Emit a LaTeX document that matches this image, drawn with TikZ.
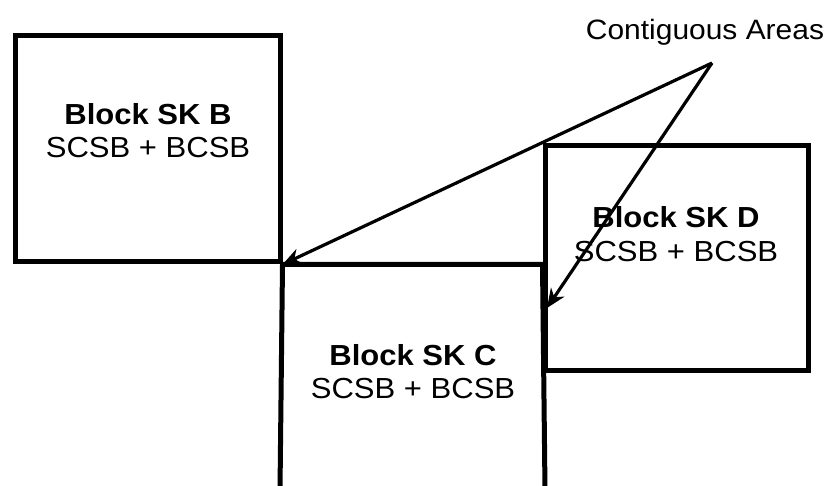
\documentclass[tikz,border=0pt]{standalone}
\usepackage{fontspec}
\setmainfont{Liberation Sans}
\usetikzlibrary{arrows.meta}
\begin{document}
\begin{tikzpicture}[x=1pt,y=-1pt,
  blockbox/.style={draw,line width=5pt,inner sep=0pt},
  wall/.style={line width=5pt},
  lbl/.style={inner sep=0pt,anchor=base,font=\fontsize{29}{31}\selectfont},
  pointer/.style={line width=3.2pt,-{Stealth[length=19pt,width=16pt,inset=6pt]}}]
\useasboundingbox (0,0) rectangle (835,486);
\node[blockbox,minimum width=265pt,minimum height=226pt] (B) at (147.5,149) {};
\node[blockbox,minimum width=263pt,minimum height=224pt] (D) at (676.5,258) {};
\coordinate (Ctl) at (B.south east);
\coordinate (Ctr) at (D.south west |- B.south east);
\coordinate (Cbl) at (280,490);
\coordinate (Cbr) at (545,490);
\draw[wall] (Cbl) -- (Ctl) -- (Ctr) -- (Cbr);
\node[lbl] (Bt) at (148,125) {\scalebox{1.07}[1]{\textbf{Block SK B}}};
\node[lbl] (Bs) at (148,158) {\scalebox{1.07}[1]{SCSB + BCSB}};
\node[lbl] (Ct) at (413,365) {\scalebox{1.07}[1]{\textbf{Block SK C}}};
\node[lbl] (Cs) at (413,398) {\scalebox{1.07}[1]{SCSB + BCSB}};
\node[lbl] (Dt) at (676,228) {\scalebox{1.07}[1]{\textbf{Block SK D}}};
\node[lbl] (Ds) at (676,262) {\scalebox{1.07}[1]{SCSB + BCSB}};
\node[lbl,font=\fontsize{28}{30}\selectfont] (lab) at (705,40) {\scalebox{1.07}[1]{Contiguous Areas}};
\coordinate (apex) at (712,63);
\coordinate (tipC) at (547,308);
\draw[pointer] (apex) -- (Ctl);
\draw[pointer] (apex) -- (tipC);
\end{tikzpicture}
\end{document}
